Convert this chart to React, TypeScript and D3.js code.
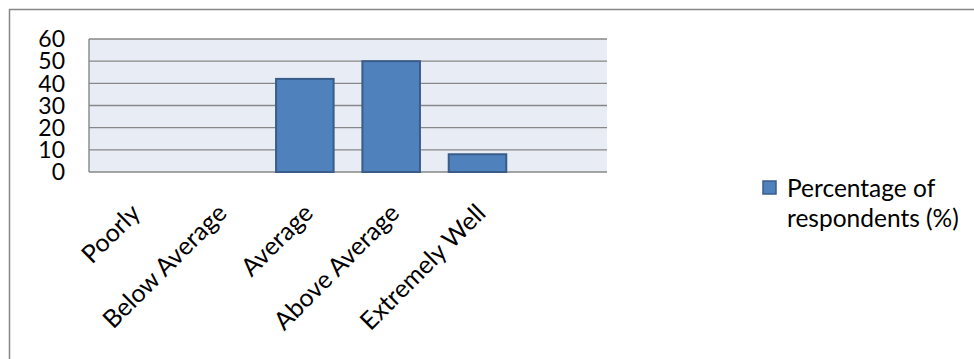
import React from "react";
import * as d3 from "d3";

const categories = ["Poorly", "Below Average", "Average", "Above Average", "Extremely Well", ""];
const values: (number | null)[] = [0, 0, 42, 50, 8, null];
const yTicks = [0, 10, 20, 30, 40, 50, 60];
const seriesName = ["Percentage of", "respondents (%)"];

const W = 974;
const H = 359;
const FONT = "Lato, 'Open Sans', sans-serif";

export default function App() {
  const plot = { left: 89, right: 607, top: 39, bottom: 172 };
  const x = d3
    .scaleBand<string>()
    .domain(categories.map((c, i) => String(i)))
    .range([plot.left, plot.right])
    .paddingInner(0.3333)
    .paddingOuter(0.1667);
  const y = d3.scaleLinear().domain([0, 60]).range([plot.bottom, plot.top]);
  const step = x.step();

  return (
    <svg
      width={W}
      height={H}
      style={{ position: "absolute", left: 0, top: 0, background: "#fff" }}
      fontFamily={FONT}
    >
      <rect x={0} y={0} width={W} height={H} fill="#fff" />
      {/* outer frame */}
      <path d={`M9.5,${H + 5} V9.5 H${W + 5}`} fill="none" stroke="#868686" strokeWidth={1.5} />
      {/* plot area */}
      <rect
        x={plot.left}
        y={plot.top}
        width={plot.right - plot.left}
        height={plot.bottom - plot.top}
        fill="#E8ECF4"
      />
      {yTicks.map((t) => (
        <line
          key={"g" + t}
          x1={plot.left}
          x2={plot.right}
          y1={y(t)}
          y2={y(t)}
          stroke="#878787"
          strokeWidth={1.4}
        />
      ))}
      <line x1={plot.left} x2={plot.left} y1={plot.top} y2={plot.bottom} stroke="#878787" strokeWidth={1.4} />
      {/* bars */}
      {values.map((v, i) =>
        v && v > 0 ? (
          <rect
            key={"b" + i}
            x={x(String(i))!}
            y={y(v)}
            width={x.bandwidth()}
            height={y(0) - y(v)}
            fill="#4F81BD"
            stroke="#385D8A"
            strokeWidth={2}
          />
        ) : null
      )}
      {/* y tick labels */}
      {yTicks.map((t) => (
        <text
          key={"t" + t}
          x={65}
          y={y(t)}
          dy="0.36em"
          textAnchor="end"
          fontSize={23}
          fill="#000"
        >
          {t}
        </text>
      ))}
      {/* x labels */}
      {categories.map((c, i) => {
        const cx = plot.left + step * (i + 0.5);
        return (
          <text
            key={"x" + i}
            transform={`translate(${cx - 3},202) rotate(-45)`}
            textAnchor="end"
            dy="0.72em"
            fontSize={25}
            fill="#000"
          >
            {c}
          </text>
        );
      })}
      {/* legend */}
      <rect x={763} y={181} width={13} height={13} fill="#4F81BD" stroke="#385D8A" strokeWidth={1.5} />
      <text x={787} y={197} fontSize={24.5} fill="#000">
        {seriesName[0]}
      </text>
      <text x={787} y={227} fontSize={24.5} fill="#000">
        {seriesName[1]}
      </text>
    </svg>
  );
}
